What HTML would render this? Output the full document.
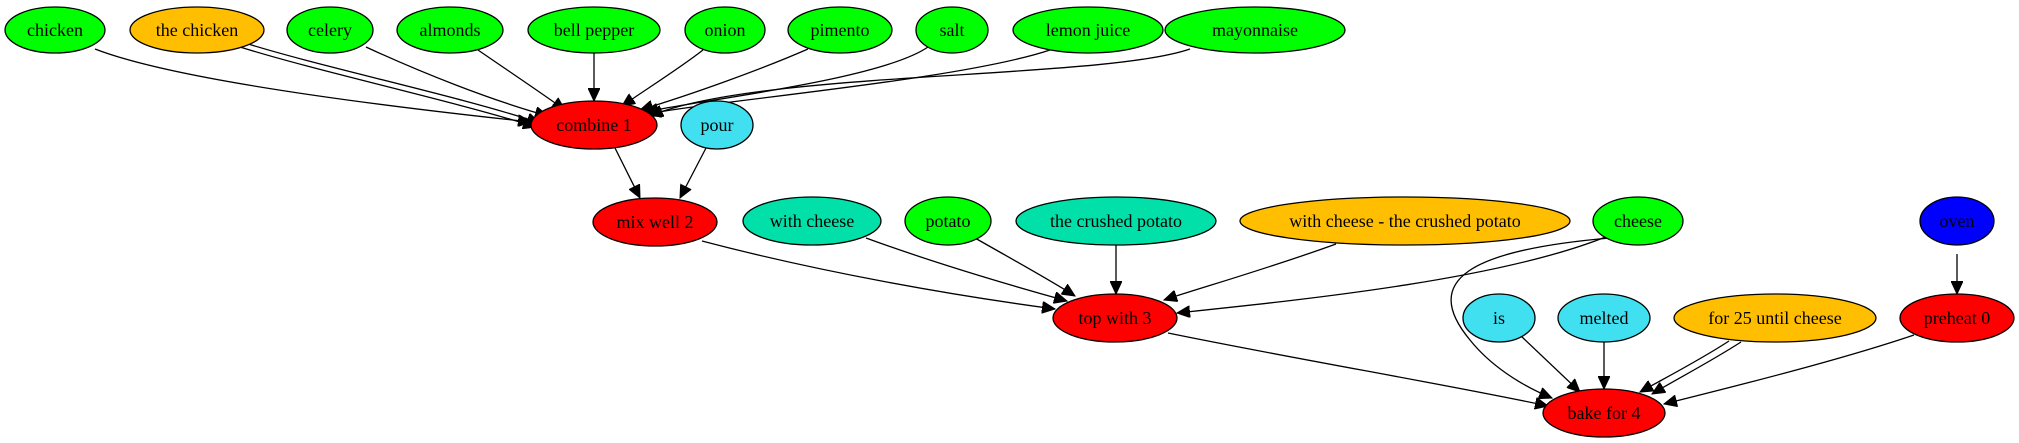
<!DOCTYPE html>
<html><head><meta charset="utf-8"><style>
html,body{margin:0;padding:0;background:#fff;}
svg{display:block;}
text{font-family:"Liberation Serif",serif;font-size:18px;text-anchor:middle;dominant-baseline:central;}
ellipse{stroke:#000;stroke-width:1.3;}
path{fill:none;stroke:#000;stroke-width:1.3;}
</style></head><body>
<svg width="2019" height="443" viewBox="0 0 2019 443">
<defs><marker id="a" markerUnits="userSpaceOnUse" markerWidth="14" markerHeight="12" refX="13" refY="6" orient="auto"><path d="M0,0 L13,6 L0,12 Z" style="fill:#000;stroke:#000;stroke-width:1"/></marker></defs>
<g marker-end="url(#a)">
<path d="M95,49 C180,82 400,108 531,122"/>
<path d="M240,47 C320,72 450,100 536,127"/>
<path d="M245,43 C325,68 455,95 540,123"/>
<path d="M366,47 C420,72 490,100 548,116"/>
<path d="M478,50 C510,72 540,92 565,110"/>
<path d="M594,53 L594,101"/>
<path d="M703,50 C680,68 645,90 622,106"/>
<path d="M808,49 C760,70 690,95 640,110"/>
<path d="M928,47 C880,80 700,100 645,112"/>
<path d="M1050,50 C960,80 720,100 648,114"/>
<path d="M1190,49 C1100,80 760,70 650,116"/>
<path d="M615,148 L640,198"/>
<path d="M706,148 L680,198"/>
<path d="M702,241 C820,272 950,295 1055,309"/>
<path d="M866,238 C940,265 1020,288 1067,301"/>
<path d="M975,238 C1010,258 1050,280 1075,296"/>
<path d="M1116,245 L1116,294"/>
<path d="M1336,244 C1270,268 1200,288 1164,300"/>
<path d="M1608,236 C1500,280 1300,300 1177,313"/>
<path d="M1610,238 C1470,250 1420,280 1470,340 C1490,365 1520,385 1552,398"/>
<path d="M1168,333 C1300,360 1450,385 1548,406"/>
<path d="M1521,336 L1580,392"/>
<path d="M1604,342 L1604,389"/>
<path d="M1729,341 C1700,360 1665,378 1640,392"/>
<path d="M1741,342 C1710,362 1675,380 1652,394"/>
<path d="M1914,335 C1840,360 1740,385 1664,404"/>
<path d="M1957,254 L1957,294"/>
</g>
<ellipse cx="55" cy="30" rx="50" ry="23" fill="#00ff00"/><text x="55" y="30">chicken</text>
<ellipse cx="197" cy="30" rx="67" ry="23" fill="#ffbf00"/><text x="197" y="30">the chicken</text>
<ellipse cx="330" cy="30" rx="43" ry="23" fill="#00ff00"/><text x="330" y="30">celery</text>
<ellipse cx="450" cy="30" rx="53" ry="23" fill="#00ff00"/><text x="450" y="30">almonds</text>
<ellipse cx="594" cy="30" rx="66" ry="23" fill="#00ff00"/><text x="594" y="30">bell pepper</text>
<ellipse cx="725" cy="30" rx="40" ry="23" fill="#00ff00"/><text x="725" y="30">onion</text>
<ellipse cx="840" cy="30" rx="52" ry="23" fill="#00ff00"/><text x="840" y="30">pimento</text>
<ellipse cx="952" cy="30" rx="36" ry="23" fill="#00ff00"/><text x="952" y="30">salt</text>
<ellipse cx="1088" cy="30" rx="75" ry="23" fill="#00ff00"/><text x="1088" y="30">lemon juice</text>
<ellipse cx="1255" cy="30" rx="90" ry="23" fill="#00ff00"/><text x="1255" y="30">mayonnaise</text>
<ellipse cx="594" cy="125" rx="63" ry="24" fill="#ff0000"/><text x="594" y="125">combine 1</text>
<ellipse cx="717" cy="125" rx="36" ry="24" fill="#40e0f0"/><text x="717" y="125">pour</text>
<ellipse cx="655" cy="222" rx="62" ry="24" fill="#ff0000"/><text x="655" y="222">mix well 2</text>
<ellipse cx="812" cy="221" rx="69" ry="24" fill="#00e0a8"/><text x="812" y="221">with cheese</text>
<ellipse cx="948" cy="221" rx="43" ry="24" fill="#00ff00"/><text x="948" y="221">potato</text>
<ellipse cx="1116" cy="221" rx="100" ry="24" fill="#00e0a8"/><text x="1116" y="221">the crushed potato</text>
<ellipse cx="1405" cy="221" rx="165" ry="24" fill="#ffbf00"/><text x="1405" y="221">with cheese - the crushed potato</text>
<ellipse cx="1638" cy="221" rx="45" ry="24" fill="#00ff00"/><text x="1638" y="221">cheese</text>
<ellipse cx="1957" cy="221" rx="37" ry="24" fill="#0000ff"/><text x="1957" y="221">oven</text>
<ellipse cx="1115" cy="318" rx="62" ry="24" fill="#ff0000"/><text x="1115" y="318">top with 3</text>
<ellipse cx="1499" cy="318" rx="36" ry="24" fill="#40e0f0"/><text x="1499" y="318">is</text>
<ellipse cx="1604" cy="318" rx="46" ry="24" fill="#40e0f0"/><text x="1604" y="318">melted</text>
<ellipse cx="1775" cy="318" rx="101" ry="24" fill="#ffbf00"/><text x="1775" y="318">for 25 until cheese</text>
<ellipse cx="1957" cy="318" rx="57" ry="24" fill="#ff0000"/><text x="1957" y="318">preheat 0</text>
<ellipse cx="1604" cy="413" rx="61" ry="24" fill="#ff0000"/><text x="1604" y="413">bake for 4</text>
</svg>
</body></html>
